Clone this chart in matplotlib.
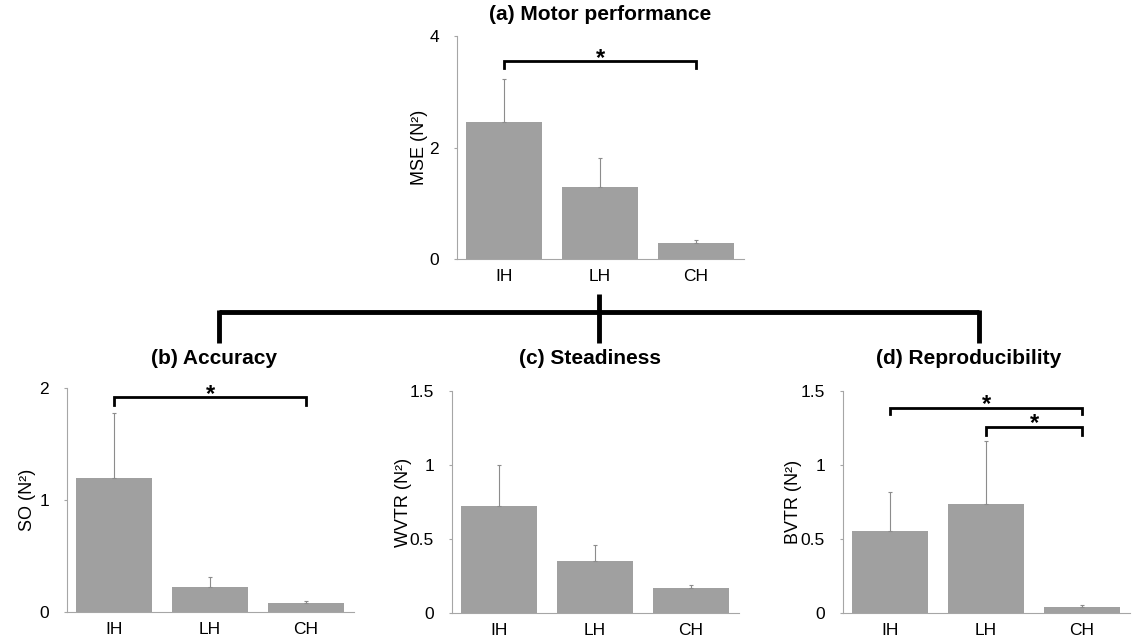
import matplotlib
matplotlib.use('Agg')
import matplotlib.pyplot as plt
from matplotlib.lines import Line2D

plt.rcParams['font.family'] = ['Liberation Sans', 'DejaVu Sans']

groups = ['IH', 'LH', 'CH']

# (a) motor performance
mse_mean = [2.45, 1.29, 0.28]
mse_sd = [0.78, 0.52, 0.06]
# (b) accuracy
so_mean = [1.20, 0.226, 0.08]
so_sd = [0.58, 0.085, 0.02]
# (c) steadiness
wvtr_mean = [0.72, 0.35, 0.17]
wvtr_sd = [0.28, 0.11, 0.017]
# (d) reproducibility
bvtr_mean = [0.555, 0.735, 0.043]
bvtr_sd = [0.265, 0.43, 0.008]

W, H = 1137, 644
fig = plt.figure(figsize=(W / 100, H / 100), dpi=100)

BAR = '#a0a0a0'
AXC = '#a6a6a6'


def px_axes(left, right, top, bottom):
    return fig.add_axes([left / W, 1 - bottom / H, (right - left) / W, (bottom - top) / H])


def bar_panel(ax, mean, sd, ymax, yticks, yticklabels, ylabel, label_x):
    x = range(len(groups))
    ax.bar(x, mean, width=0.8, color=BAR, zorder=2)
    ax.errorbar(x, mean, yerr=[[0] * len(sd), sd], fmt='none', ecolor='#8c8c8c',
                elinewidth=0.8, capsize=1.5, capthick=0.8, zorder=3)
    ax.set_xlim(-0.49, 2.5)
    ax.set_ylim(0, ymax)
    ax.set_xticks(list(x))
    ax.set_xticklabels(groups, fontsize=12.5)
    ax.set_yticks(yticks)
    ax.set_yticklabels(yticklabels, fontsize=12.5)
    ax.tick_params(axis='x', length=0, pad=7)
    ax.tick_params(axis='y', length=2, color=AXC, pad=11)
    ax.set_ylabel(ylabel, fontsize=13)
    ax.yaxis.set_label_coords(label_x, 0.5)
    ax.yaxis.label.set_verticalalignment('center')
    for s in ['top', 'right']:
        ax.spines[s].set_visible(False)
    for s in ['left', 'bottom']:
        ax.spines[s].set_color(AXC)
        ax.spines[s].set_linewidth(0.8)


def bracket(ax, i, j, y, tip):
    ax.plot([i, i, j, j], [y - tip, y, y, y - tip], color='black', lw=2,
            clip_on=False, zorder=4, solid_joinstyle='miter')
    ax.annotate('*', xy=((i + j) / 2, y), xytext=(0, 2), textcoords='offset points',
                ha='center', va='center', fontsize=17, fontweight='bold',
                annotation_clip=False)


ax_a = px_axes(457, 744, 36, 259)
bar_panel(ax_a, mse_mean, mse_sd, 4, [0, 2, 4], ['0', '2', '4'], 'MSE (N²)', -0.129)
bracket(ax_a, 0, 2, 3.55, 0.13)

ax_b = px_axes(67, 354, 388, 612)
bar_panel(ax_b, so_mean, so_sd, 2, [0, 1, 2], ['0', '1', '2'], 'SO (N²)', -0.139)
bracket(ax_b, 0, 2, 1.92, 0.07)

ax_c = px_axes(452, 739, 391, 613)
bar_panel(ax_c, wvtr_mean, wvtr_sd, 1.5, [0, 0.5, 1, 1.5], ['0', '0.5', '1', '1.5'],
          'WVTR (N²)', -0.170)

ax_d = px_axes(843, 1130, 391, 613)
bar_panel(ax_d, bvtr_mean, bvtr_sd, 1.5, [0, 0.5, 1, 1.5], ['0', '0.5', '1', '1.5'],
          'BVTR (N²)', -0.173)
bracket(ax_d, 0, 2, 1.387, 0.04)
bracket(ax_d, 1, 2, 1.26, 0.06)

# panel titles
fig.text(600 / W, 1 - 15 / H, '(a) Motor performance', ha='center', va='center',
         fontsize=15, fontweight='bold')
fig.text(214 / W, 1 - 359 / H, '(b) Accuracy', ha='center', va='center',
         fontsize=15, fontweight='bold')
fig.text(590 / W, 1 - 359 / H, '(c) Steadiness', ha='center', va='center',
         fontsize=15, fontweight='bold')
fig.text(969 / W, 1 - 359 / H, '(d) Reproducibility', ha='center', va='center',
         fontsize=15, fontweight='bold')

# tree connector between panel (a) and (b)-(d)
def fline(xs, ys):
    fig.add_artist(Line2D([v / W for v in xs], [1 - v / H for v in ys],
                          color='black', lw=3.5, solid_capstyle='butt'))

fline([219, 979], [312, 312])
fline([219, 219], [310, 343])
fline([979, 979], [310, 343])
fline([599, 599], [294, 343])

fig.savefig('out.png', dpi=100)
